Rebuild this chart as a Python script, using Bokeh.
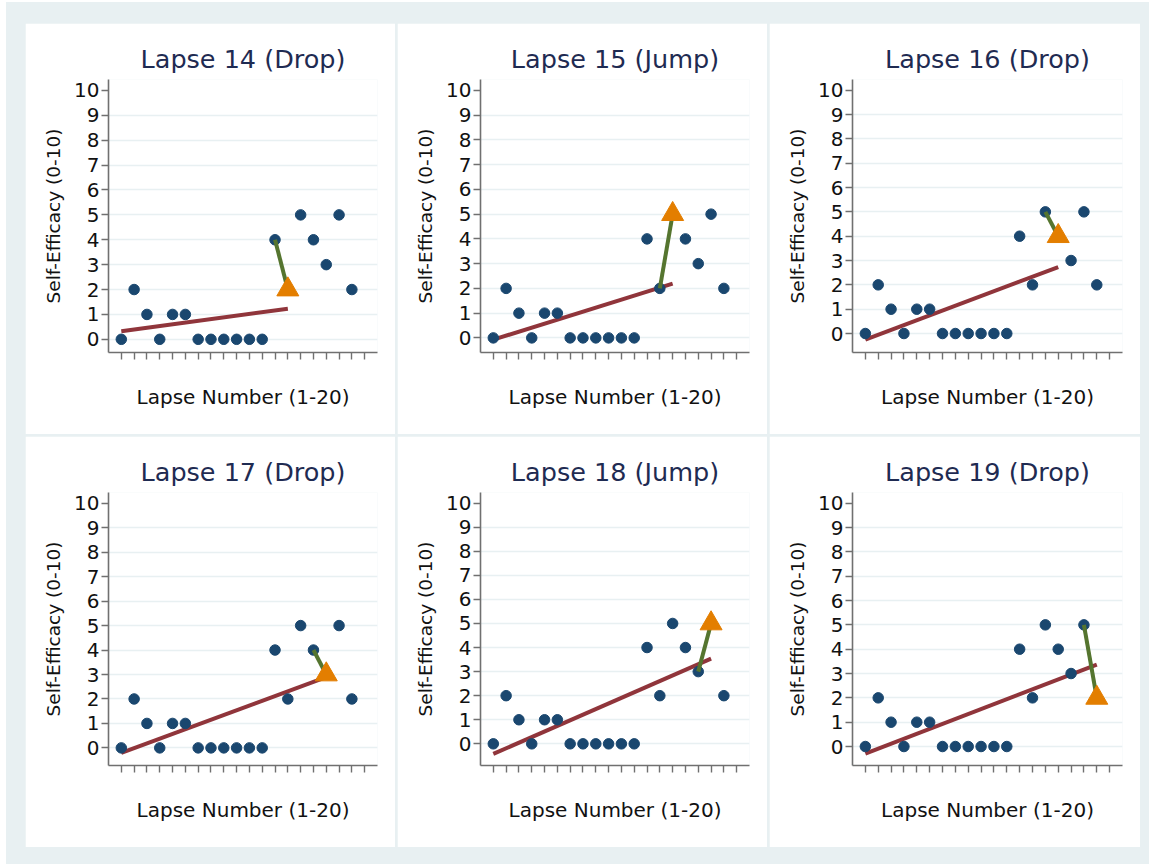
from bokeh.plotting import figure
from bokeh.layouts import row, column
from bokeh.models import FixedTicker, Spacer
from bokeh.embed import file_html
from bokeh.resources import INLINE

# ---- data ----
lapse_numbers = list(range(1, 20))
self_efficacy = [0, 2, 1, 0, 1, 1, 0, 0, 0, 0, 0, 0, 4, 2, 5, 4, 3, 5, 2]
panel_lapses = [14, 15, 16, 17, 18, 19]
panel_types = ["Drop", "Jump", "Drop", "Drop", "Jump", "Drop"]
trend_start = [0.32, -0.07, -0.25, -0.20, -0.42, -0.29]   # fitted line value at lapse 1
trend_end = [1.23, 2.19, 2.73, 2.89, 3.54, 3.37]          # fitted line value at current lapse
x_ticks = list(range(1, 21))
y_ticks = list(range(0, 11))
y_grid = list(range(0, 10))
# lower end of each panel's y range (plot regions differ slightly between panels)
y_low = [-0.53, -0.59, -0.78, -0.72, -0.90, -0.78]

BG = "#e8f0f2"
NAVY = "#1a476f"
MAROON = "#90353b"
GREEN = "#55752f"
ORANGE = "#e37e00"
TITLE = "#1f2b52"
AXIS = "#707070"
FONT = "DejaVu Sans"


def make_panel(k, width, height):
    n = panel_lapses[k]
    p = figure(width=width, height=height, x_range=(0, 21), y_range=(y_low[k], 10.44),
               output_backend="svg", toolbar_location=None,
               min_border_left=83, min_border_right=18, min_border_top=56, min_border_bottom=82,
               background_fill_color="white", border_fill_color="white",
               outline_line_color=None)
    p.title.text = f"Lapse {n} ({panel_types[k]})"
    p.title.align = "center"
    p.title.text_font = FONT
    p.title.text_font_size = "25.5px"
    p.title.text_font_style = "normal"
    p.title.text_color = TITLE
    p.title.standoff = 12

    p.xgrid.visible = False
    p.ygrid.ticker = FixedTicker(ticks=y_grid)
    p.ygrid.grid_line_color = BG
    p.ygrid.grid_line_width = 1.6

    ya = p.yaxis[0]
    ya.ticker = FixedTicker(ticks=y_ticks)
    ya.major_tick_out = 7
    ya.major_tick_in = 0
    ya.minor_tick_out = 0
    ya.minor_tick_in = 0
    ya.major_label_standoff = 2
    ya.major_label_text_font = FONT
    ya.major_label_text_font_size = "20px"
    ya.major_label_text_color = "#111111"
    ya.axis_line_color = AXIS
    ya.axis_line_width = 1.6
    ya.major_tick_line_color = AXIS
    ya.major_tick_line_width = 1.4
    ya.axis_label = "Self-Efficacy (0-10)"
    ya.axis_label_text_font = FONT
    ya.axis_label_text_font_size = "18.5px"
    ya.axis_label_text_font_style = "normal"
    ya.axis_label_text_color = "#111111"
    ya.axis_label_standoff = 7

    xa = p.xaxis[0]
    xa.ticker = FixedTicker(ticks=x_ticks)
    xa.major_tick_out = 7
    xa.major_tick_in = 0
    xa.minor_tick_out = 0
    xa.minor_tick_in = 0
    xa.major_label_text_alpha = 0
    xa.major_label_text_font_size = "10px"
    xa.axis_line_color = AXIS
    xa.axis_line_width = 1.6
    xa.major_tick_line_color = AXIS
    xa.major_tick_line_width = 1.4
    xa.axis_label = "Lapse Number (1-20)"
    xa.axis_label_text_font = FONT
    xa.axis_label_text_font_size = "20px"
    xa.axis_label_text_font_style = "normal"
    xa.axis_label_text_color = "#111111"
    xa.axis_label_standoff = 25

    # fitted trend
    p.line([lapse_numbers[0], n], [trend_start[k], trend_end[k]],
           line_color=MAROON, line_width=4)
    # other lapses
    xs = [x for x in lapse_numbers if x != n]
    ys = [self_efficacy[x - 1] for x in xs]
    p.scatter(xs, ys, marker="circle", size=10.5, fill_color=NAVY, line_color=NAVY)
    # change from previous lapse
    p.line([n - 1, n], [self_efficacy[n - 2], self_efficacy[n - 1]],
           line_color=GREEN, line_width=4)
    # current lapse
    p.scatter([n], [self_efficacy[n - 1]], marker="triangle", size=22,
              fill_color=ORANGE, line_color=ORANGE)
    return p


widths = [370, 370, 371]
panels = [make_panel(k, widths[k % 3], 411) for k in range(6)]

top = row(panels[0], Spacer(width=2), panels[1], Spacer(width=2), panels[2])
bottom = row(panels[3], Spacer(width=2), panels[4], Spacer(width=2), panels[5])
grid = column(top, Spacer(height=2), bottom)

bg_block = column(
    Spacer(height=21, width=1143),
    row(Spacer(width=19), grid, Spacer(width=9)),
    Spacer(height=17),
    styles={"background-color": BG},
)
page = column(Spacer(height=2), row(Spacer(width=6), bg_block),
              styles={"background-color": "white"})

open("out.html", "w").write(file_html(page, INLINE, title="Lapse panels"))
